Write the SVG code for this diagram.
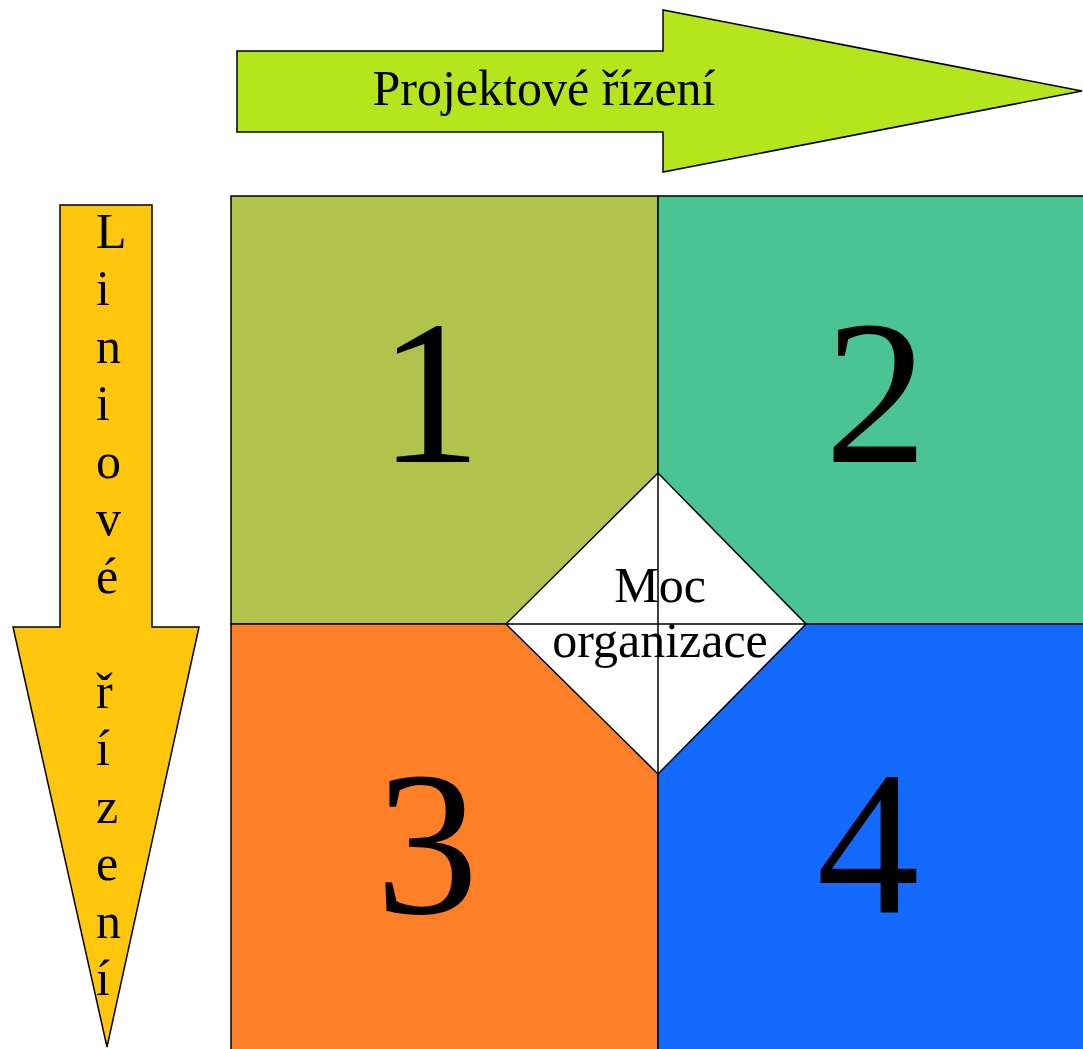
<svg xmlns="http://www.w3.org/2000/svg" width="1083" height="1049" viewBox="0 0 1083 1049">
  <style>
    .outline { stroke: #000; stroke-width: 1.5; stroke-linejoin: miter; }
    .label { font-family: "Liberation Serif", "Times New Roman", serif; fill: #000; }
    .big { font-size: 50px; }
    .digit { font-size: 206px; text-anchor: middle; }
  </style>

  <rect width="1083" height="1049" fill="#fff"/>

  <!-- horizontal arrow: project management -->
  <g id="arrow-projekt">
    <polygon class="outline" fill="#b5e61d" points="237,51 663,51 663,10 1082,91 663,172 663,132 237,132"/>
    <text class="label big" x="544" y="105" text-anchor="middle">Projektové řízení</text>
  </g>

  <!-- vertical arrow: line management, letters stacked -->
  <g id="arrow-linie">
    <polygon class="outline" fill="#fec70e" points="60,205 152,205 152,627 199,627 107,1047 13,627 60,627"/>
    <text class="label big" x="96">
      <tspan x="96" y="247.5">L</tspan>
      <tspan x="96" y="305">i</tspan>
      <tspan x="96" y="362.5">n</tspan>
      <tspan x="96" y="420">i</tspan>
      <tspan x="96" y="477.5">o</tspan>
      <tspan x="96" y="535">v</tspan>
      <tspan x="96" y="592.5">é</tspan>
      <tspan x="96" y="707.5">ř</tspan>
      <tspan x="96" y="765">í</tspan>
      <tspan x="96" y="822.5">z</tspan>
      <tspan x="96" y="880">e</tspan>
      <tspan x="96" y="937.5">n</tspan>
      <tspan x="96" y="995">í</tspan>
    </text>
  </g>

  <!-- quadrants -->
  <g id="q1">
    <rect class="outline" fill="#b1c34c" x="231" y="196" width="427" height="428"/>
    <text class="label digit" x="430" y="462">1</text>
  </g>
  <g id="q2">
    <rect class="outline" fill="#4ac492" x="658" y="196" width="440" height="428"/>
    <text class="label digit" x="876" y="462">2</text>
  </g>
  <g id="q3">
    <rect class="outline" fill="#fd7f27" x="231" y="624" width="427" height="440"/>
    <text class="label digit" x="427" y="913">3</text>
  </g>
  <g id="q4">
    <rect class="outline" fill="#156afe" x="658" y="624" width="440" height="440"/>
    <text class="label digit" x="868" y="913">4</text>
  </g>

  <!-- central diamond: power of the organization -->
  <g id="moc">
    <polygon class="outline" fill="#fff" points="658,473 806,624 658,774 506,624"/>
    <line class="outline" x1="658" y1="473" x2="658" y2="774"/>
    <line class="outline" x1="506" y1="624" x2="806" y2="624"/>
    <text class="label big" x="660" y="602" text-anchor="middle">Moc</text>
    <text class="label big" x="660" y="657" text-anchor="middle">organizace</text>
  </g>
</svg>
